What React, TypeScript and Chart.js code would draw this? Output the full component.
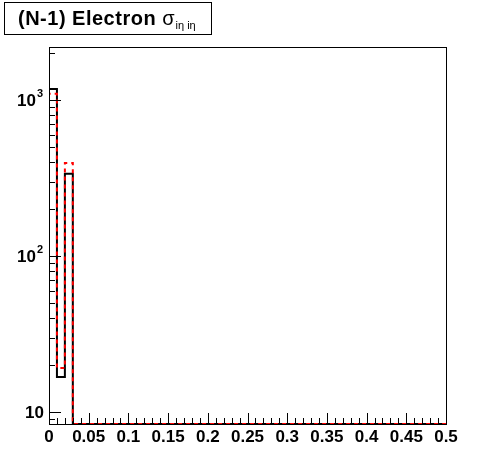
import React, { useEffect, useRef } from "react";
import { Chart, registerables } from "chart.js";

Chart.register(...registerables);

// ---- data ----
const binWidth = 0.01;
const binLowEdges = [
  0, 0.01, 0.02, 0.03, 0.04, 0.05, 0.06, 0.07, 0.08, 0.09,
  0.1, 0.11, 0.12, 0.13, 0.14, 0.15, 0.16, 0.17, 0.18, 0.19,
  0.2, 0.21, 0.22, 0.23, 0.24, 0.25, 0.26, 0.27, 0.28, 0.29,
  0.3, 0.31, 0.32, 0.33, 0.34, 0.35, 0.36, 0.37, 0.38, 0.39,
  0.4, 0.41, 0.42, 0.43, 0.44, 0.45, 0.46, 0.47, 0.48, 0.49,
];
const blackCounts = [
  1180, 16.8, 337, 0, 0, 0, 0, 0, 0, 0,
  0, 0, 0, 0, 0, 0, 0, 0, 0, 0,
  0, 0, 0, 0, 0, 0, 0, 0, 0, 0,
  0, 0, 0, 0, 0, 0, 0, 0, 0, 0,
  0, 0, 0, 0, 0, 0, 0, 0, 0, 0,
];
const redCounts = [
  1100, 19.2, 396, 0, 0, 0, 0, 0, 0, 0,
  0, 0, 0, 0, 0, 0, 0, 0, 0, 0,
  0, 0, 0, 0, 0, 0, 0, 0, 0, 0,
  0, 0, 0, 0, 0, 0, 0, 0, 0, 0,
  0, 0, 0, 0, 0, 0, 0, 0, 0, 0,
];
const xTickValues = [0, 0.05, 0.1, 0.15, 0.2, 0.25, 0.3, 0.35, 0.4, 0.45, 0.5];
const xTickLabels = ["0", "0.05", "0.1", "0.15", "0.2", "0.25", "0.3", "0.35", "0.4", "0.45", "0.5"];
const yDecadeValues = [10, 100, 1000];
const yDecadeBase = ["10", "10", "10"];
const yDecadeExponent = ["", "2", "3"];
const yMinorValues = [9, 20, 30, 40, 50, 60, 70, 80, 90, 200, 300, 400, 500, 600, 700, 800, 900, 2000];
const xMinorStep = 0.01;
const Y_MIN = 8.4;
const Y_MAX = 2190;
const X_MIN = 0;
const X_MAX = 0.5;
const titleMain = "(N-1) Electron ";
const titleSymbol = "σ";
const titleSub = "iη iη";

function toSteps(counts: number[]) {
  const pts: { x: number; y: number }[] = [{ x: binLowEdges[0], y: Y_MIN }];
  counts.forEach((c, i) => pts.push({ x: binLowEdges[i], y: Math.max(c, Y_MIN) }));
  const last = counts.length - 1;
  pts.push({ x: binLowEdges[last] + binWidth, y: Math.max(counts[last], Y_MIN) });
  return pts;
}

const FONT = "'Liberation Sans', Arial, Helvetica, sans-serif";

const framePlugin = {
  id: "rootFrame",
  afterDraw(chart: any) {
    const { ctx, chartArea } = chart;
    const xs = chart.scales.x;
    const ys = chart.scales.y;
    const { left, right, top, bottom } = chartArea;
    ctx.save();
    ctx.strokeStyle = "#000";
    ctx.fillStyle = "#000";
    ctx.lineWidth = 1;
    // frame
    ctx.strokeRect(Math.round(left) + 0.5, Math.round(top) + 0.5, Math.round(right - left), Math.round(bottom - top));
    // x ticks
    const nMinor = Math.round((X_MAX - X_MIN) / xMinorStep);
    ctx.beginPath();
    for (let i = 0; i <= nMinor; i++) {
      const v = X_MIN + i * xMinorStep;
      const px = Math.round(xs.getPixelForValue(v)) + 0.5;
      const major = i % 5 === 0;
      ctx.moveTo(px, bottom);
      ctx.lineTo(px, bottom - (major ? 11 : 6));
    }
    // y ticks
    yDecadeValues.forEach((v) => {
      const py = Math.round(ys.getPixelForValue(v)) + 0.5;
      ctx.moveTo(left, py);
      ctx.lineTo(left + 12, py);
    });
    yMinorValues.forEach((v) => {
      const py = Math.round(ys.getPixelForValue(v)) + 0.5;
      ctx.moveTo(left, py);
      ctx.lineTo(left + 6, py);
    });
    ctx.stroke();
    // x labels
    ctx.font = `bold 17px ${FONT}`;
    ctx.textAlign = "center";
    ctx.textBaseline = "alphabetic";
    xTickValues.forEach((v, i) => {
      const px = xs.getPixelForValue(v);
      ctx.fillText(xTickLabels[i], px, bottom + 18);
    });
    // y labels
    yDecadeValues.forEach((v, i) => {
      const py = ys.getPixelForValue(v);
      const exp = yDecadeExponent[i];
      ctx.textAlign = "right";
      if (exp) {
        ctx.font = `bold 11px ${FONT}`;
        ctx.fillText(exp, left - 6, py - 3);
        const ew = ctx.measureText(exp).width;
        ctx.font = `bold 17px ${FONT}`;
        ctx.fillText(yDecadeBase[i], left - 7 - ew, py + 6);
      } else {
        ctx.font = `bold 17px ${FONT}`;
        ctx.fillText(yDecadeBase[i], left - 5, py + 6);
      }
    });
    // title box
    ctx.fillStyle = "#fff";
    ctx.fillRect(4, 2, 207, 32);
    ctx.strokeRect(4.5, 2.5, 207, 32);
    ctx.fillStyle = "#000";
    ctx.textAlign = "left";
    ctx.font = `bold 20px ${FONT}`;
    try { (ctx as any).letterSpacing = "0.5px"; } catch (e) {}
    let x = 18;
    ctx.fillText(titleMain, x, 25);
    x += ctx.measureText(titleMain).width;
    try { (ctx as any).letterSpacing = "0px"; } catch (e) {}
    ctx.font = `20px ${FONT}`;
    ctx.fillText(titleSymbol, x, 25);
    x += ctx.measureText(titleSymbol).width + 1;
    ctx.font = `11px ${FONT}`;
    ctx.fillText(titleSub, x, 29);
    ctx.restore();
  },
};

export default function App() {
  const ref = useRef<HTMLCanvasElement | null>(null);
  useEffect(() => {
    document.body.style.margin = "0";
    document.body.style.background = "#fff";
    const canvas = ref.current!;
    const chart = new Chart(canvas, {
      type: "line",
      data: {
        datasets: [
          {
            label: "red",
            data: toSteps(redCounts),
            borderColor: "#ff0000",
            borderWidth: 2,
            borderDash: [4, 4],
            stepped: true,
            pointRadius: 0,
            fill: false,
          },
          {
            label: "black",
            data: toSteps(blackCounts),
            borderColor: "#000000",
            borderWidth: 2,
            stepped: true,
            pointRadius: 0,
            fill: false,
          },
        ],
      },
      options: {
        animation: false,
        responsive: false,
        devicePixelRatio: 1,
        parsing: false as any,
        layout: { padding: { left: 49, right: 50, top: 47, bottom: 48 } },
        plugins: { legend: { display: false }, tooltip: { enabled: false }, title: { display: false } },
        scales: {
          x: { type: "linear", min: X_MIN, max: X_MAX, display: false },
          y: { type: "logarithmic", min: Y_MIN, max: Y_MAX, display: false },
        },
      },
      plugins: [framePlugin],
    });
    return () => chart.destroy();
  }, []);
  return (
    <div style={{ width: 496, height: 472, background: "#fff" }}>
      <canvas ref={ref} width={496} height={472} style={{ width: 496, height: 472, display: "block" }} />
    </div>
  );
}
